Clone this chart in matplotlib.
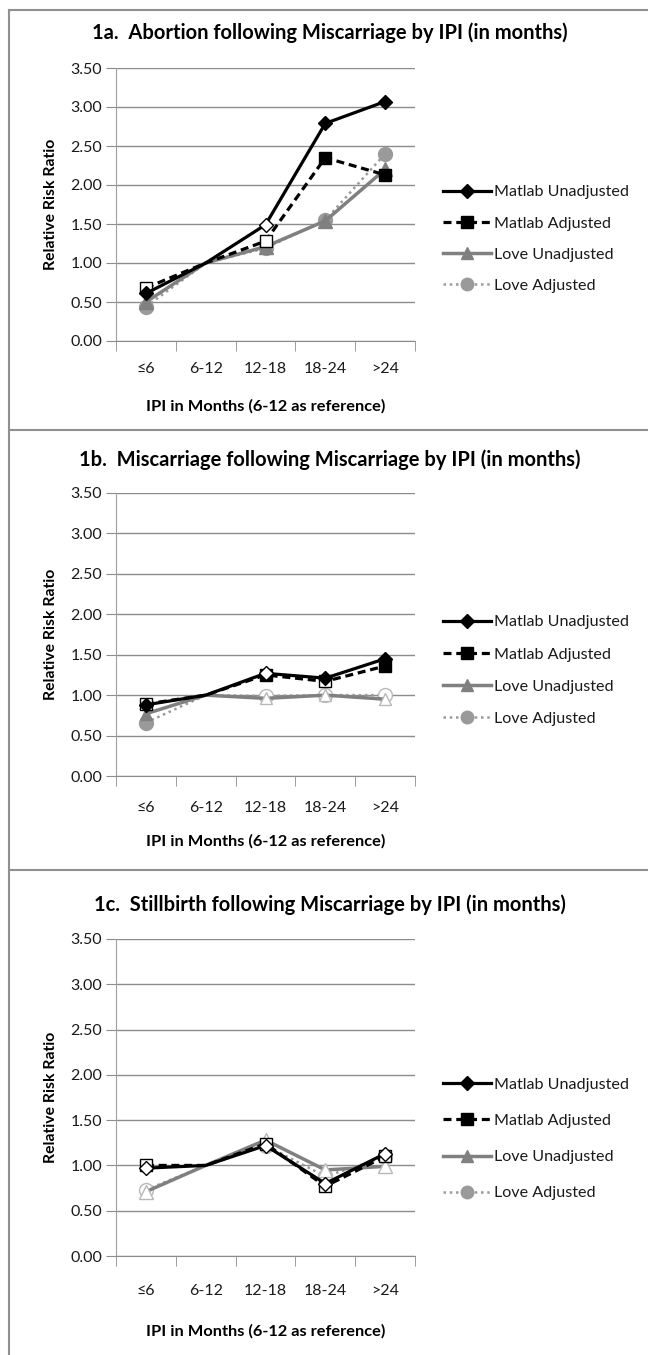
import matplotlib
matplotlib.use("Agg")
import matplotlib.pyplot as plt
from matplotlib.lines import Line2D

plt.rcParams['font.family'] = ['Lato', 'DejaVu Sans']

# ---- data ----
categories = ['≤6', '6-12', '12-18', '18-24', '>24']
series_names = ['Matlab Unadjusted', 'Matlab Adjusted', 'Love Unadjusted', 'Love Adjusted']

titles = ['1a.  Abortion following Miscarriage by IPI (in months)',
          '1b.  Miscarriage following Miscarriage by IPI (in months)',
          '1c.  Stillbirth following Miscarriage by IPI (in months)']

# relative risk ratios, one list per series per panel
a_matlab_unadj = [0.61, 1.00, 1.49, 2.79, 3.07]
a_matlab_adj = [0.68, 1.00, 1.28, 2.35, 2.13]
a_love_unadj = [0.50, 1.00, 1.21, 1.54, 2.20]
a_love_adj = [0.44, 1.00, 1.19, 1.55, 2.40]

b_matlab_unadj = [0.88, 1.00, 1.27, 1.21, 1.45]
b_matlab_adj = [0.89, 1.00, 1.25, 1.17, 1.36]
b_love_unadj = [0.77, 1.00, 0.96, 1.00, 0.95]
b_love_adj = [0.66, 1.00, 0.99, 1.00, 1.00]

c_matlab_unadj = [0.97, 1.00, 1.22, 0.80, 1.13]
c_matlab_adj = [1.00, 1.00, 1.24, 0.77, 1.10]
c_love_unadj = [0.71, 1.00, 1.28, 0.95, 0.99]
c_love_adj = [0.73, 1.00, 1.22, 0.88, 1.09]

# 1 = filled marker (significant), 0 = hollow marker, None = reference (no marker)
a_filled = [[1, None, 0, 1, 1], [0, None, 0, 1, 1], [1, None, 1, 1, 1], [1, None, 1, 1, 1]]
b_filled = [[1, None, 0, 1, 1], [0, None, 1, 0, 1], [1, None, 0, 0, 0], [1, None, 0, 0, 0]]
c_filled = [[0, None, 0, 0, 0], [0, None, 0, 0, 0], [0, None, 0, 0, 0], [0, None, 0, 0, 0]]

panels = [
    ([a_matlab_unadj, a_matlab_adj, a_love_unadj, a_love_adj], a_filled),
    ([b_matlab_unadj, b_matlab_adj, b_love_unadj, b_love_adj], b_filled),
    ([c_matlab_unadj, c_matlab_adj, c_love_unadj, c_love_adj], c_filled),
]

# ---- styles ----
colors = ['black', 'black', '#808080', '#9a9a9a']
hollow_edge = ['black', 'black', '#b8b8b8', '#b8b8b8']
lstyles = ['-', (0, (2.5, 1.5)), '-', (0, (1, 1.5))]
lwidths = [2.3, 2.3, 2.5, 1.8]
markers = ['D', 's', '^', 'o']
zorders = [6, 5, 4, 3]

W, H = 648, 1355
fig = plt.figure(figsize=(W / 100, H / 100), dpi=100)

# pixel layout of each panel: axes top/bottom, title y, legend rows, label pads
layout = [
    dict(top=68, bot=341, title=33, leg=[193, 224, 255, 285], msize=[7, 9, 10, 10],
         tpad=15, xpad=17),
    dict(top=493, bot=776, title=460, leg=[623, 656, 687, 718], msize=[7, 8, 9, 10],
         tpad=18, xpad=14),
    dict(top=939, bot=1256, title=905, leg=[1086, 1121, 1156, 1192], msize=[7, 9, 10, 10],
         tpad=20, xpad=19),
]
ax_left, ax_right = 116, 415
grid_c = '#8c8c8c'
txt_c = '#1a1a1a'

for (series, filled), lay, title in zip(panels, layout, titles):
    ax = fig.add_axes([ax_left / W, 1 - lay['bot'] / H,
                       (ax_right - ax_left) / W, (lay['bot'] - lay['top']) / H])
    x = list(range(len(categories)))
    for i, vals in enumerate(series):
        ax.plot(x, vals, color=colors[i], ls=lstyles[i], lw=lwidths[i],
                zorder=zorders[i], solid_capstyle='round')
        fx = [xx for xx, f in zip(x, filled[i]) if f == 1]
        fy = [v for v, f in zip(vals, filled[i]) if f == 1]
        hx = [xx for xx, f in zip(x, filled[i]) if f == 0]
        hy = [v for v, f in zip(vals, filled[i]) if f == 0]
        ms = lay['msize'][i]
        ax.plot(fx, fy, ls='none', marker=markers[i], ms=ms, color=colors[i],
                mec=colors[i], zorder=zorders[i] + 0.5)
        ax.plot(hx, hy, ls='none', marker=markers[i], ms=ms, mfc='white',
                mec=hollow_edge[i], mew=1.0, zorder=zorders[i] + 0.5)

    ax.set_xlim(-0.5, 4.5)
    ax.set_ylim(0, 3.5)
    ax.set_yticks([0, 0.5, 1, 1.5, 2, 2.5, 3, 3.5])
    ax.set_yticklabels(['%.2f' % t for t in ax.get_yticks()], fontsize=11.5, color=txt_c)
    ax.set_xticks(x)
    ax.set_xticklabels(categories, fontsize=11.5, color=txt_c)
    ax.set_xticks([-0.5, 0.5, 1.5, 2.5, 3.5, 4.5], minor=True)
    ax.tick_params(axis='x', which='major', length=0, pad=lay['tpad'])
    ax.tick_params(axis='x', which='minor', length=7, color=grid_c, direction='out')
    ax.tick_params(axis='y', length=7, color=grid_c, pad=3)
    ax.grid(axis='y', color=grid_c, lw=1.0)
    ax.set_axisbelow(True)
    for s in ['top', 'right']:
        ax.spines[s].set_visible(False)
    ax.spines['left'].set_color('#a0a0a0')
    ax.spines['bottom'].set_color(grid_c)
    ax.set_ylabel('Relative Risk Ratio', fontsize=11.3, fontweight='bold', labelpad=9)
    ax.set_xlabel('IPI in Months (6-12 as reference)', fontsize=11.8, fontweight='bold',
                  labelpad=lay['xpad'])

    fig.text(330 / W, 1 - lay['title'] / H, title, fontsize=14.5, fontweight='bold',
             ha='center', va='center')

    # legend
    handles = []
    for i in range(4):
        handles.append(Line2D([], [], color=colors[i], ls=lstyles[i], lw=lwidths[i],
                              marker=markers[i], ms=[7, 9, 9, 9][i]))
    leg_mid = (lay['leg'][0] + lay['leg'][3]) / 2
    spacing = (lay['leg'][3] - lay['leg'][0]) / 3
    fig.legend(handles, series_names, loc='center left',
               bbox_to_anchor=(443 / W, 1 - leg_mid / H), frameon=False,
               fontsize=11.6, handlelength=3.0, handletextpad=0.15,
               labelspacing=(spacing - 15) / 15, borderaxespad=0, borderpad=0,
               labelcolor=txt_c)

# panel frames
frame_c = '#909090'
for yy in [10, 430, 870]:
    fig.add_artist(Line2D([9 / W, 1], [1 - yy / H, 1 - yy / H], color=frame_c, lw=1.5))
fig.add_artist(Line2D([9 / W, 9 / W], [1 - 10 / H, 0], color=frame_c, lw=1.5))

fig.savefig('out.png', dpi=100, facecolor='white')
